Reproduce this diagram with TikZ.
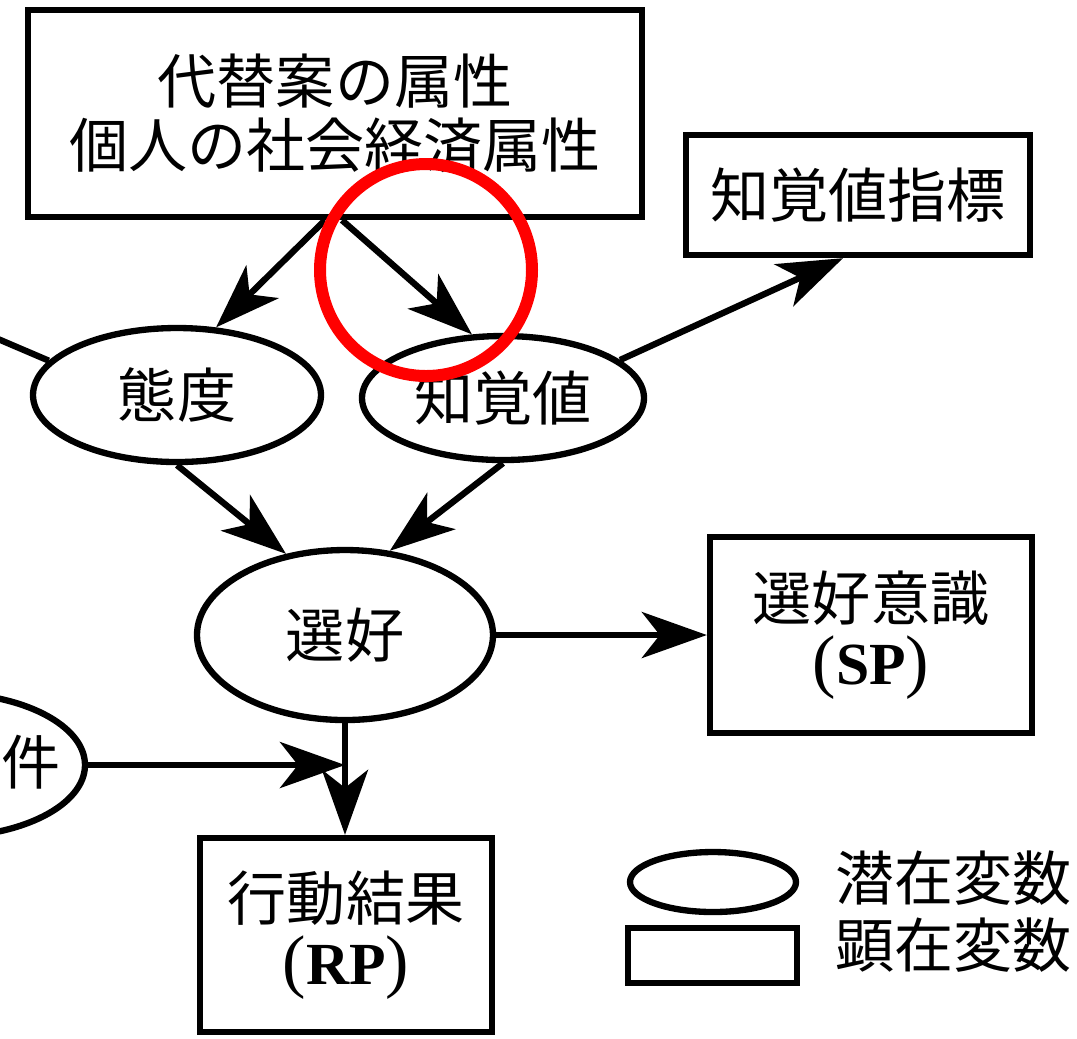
\documentclass[tikz,border=0pt]{standalone}
\usepackage{fontspec}
\usetikzlibrary{shapes.geometric,arrows.meta,calc}
\newfontfamily\jp{Noto Sans CJK JP}
\newfontfamily\lsr{Liberation Serif}
\newcommand\jpsize{\jp\fontsize{16.8}{18.2}\selectfont}
\newcommand\rpsplabel[1]{{\lsr\fontsize{20}{18.2}\selectfont(}{\lsr\bfseries\fontsize{17}{18.2}\selectfont #1}{\lsr\fontsize{20}{18.2}\selectfont)}}
\tikzset{
  boxnode/.style={draw, rectangle, line width=1.8pt, inner sep=0pt, align=center, font=\jpsize},
  ellnode/.style={draw, ellipse, line width=1.8pt, inner sep=0pt, align=center, font=\jpsize},
  txt/.style={inner sep=0pt, font=\jpsize},
  arr/.style={line width=1.8pt, -{Stealth[length=6.5mm,width=4.6mm,inset=1.8mm]}},
  plainline/.style={line width=1.8pt}
}
\begin{document}
\begin{tikzpicture}
\path[use as bounding box] (0,0) rectangle (10.77,-10.38);
\clip (0,0) rectangle (10.77,-10.38);
% nodes
\node[boxnode, minimum width=6.14cm, minimum height=2.07cm] (top) at (3.35,-1.135) {代替案の属性\\個人の社会経済属性};
\node[boxnode, minimum width=3.44cm, minimum height=1.20cm] (shihyo) at (8.58,-1.95) {知覚値指標};
\node[ellnode, minimum width=2.88cm, minimum height=1.34cm] (taido) at (1.77,-3.95) {態度};
\node[ellnode, minimum width=2.82cm, minimum height=1.24cm] (chikaku) at (5.03,-3.98) {知覚値};
\node[ellnode, minimum width=2.96cm, minimum height=1.70cm] (senko) at (3.45,-6.35) {選好};
\node[boxnode, minimum width=3.22cm, minimum height=1.96cm] (sp) at (8.71,-6.35) {選好意識\\\rpsplabel{SP}};
\node[boxnode, minimum width=2.92cm, minimum height=1.94cm] (rp) at (3.46,-9.35) {行動結果\\\rpsplabel{RP}};
\node[ellnode, minimum width=2.80cm, minimum height=1.44cm] (ken) at (-0.55,-7.65) {};
\node[txt] (kenl) at (0.31,-7.62) {件};
\coordinate (lin) at (-0.3,-3.27);
% legend
\node[ellnode, minimum width=1.66cm, minimum height=0.60cm] (legE) at (7.13,-8.82) {};
\node[boxnode, minimum width=1.69cm, minimum height=0.55cm] (legR) at (7.125,-9.555) {};
\node[txt, anchor=west] (leg1) at (8.35,-8.78) {潜在変数};
\node[txt, anchor=west] (leg2) at (8.35,-9.45) {顕在変数};
% connectors
\draw[plainline] (lin) -- (taido.165);
\draw[arr] ([xshift=-0.1cm]top.south) -- (taido.60);
\draw[arr] ([xshift=0.07cm]top.south) -- (chikaku.116);
\draw[arr] (chikaku.18) -- ([xshift=-0.15cm]shihyo.south);
\draw[arr] (taido.south) -- (senko.126);
\draw[arr] (chikaku.south) -- (senko.62);
\draw[arr] (senko.east) -- (sp.west |- senko.east);
\draw[arr] (senko.south) -- (rp.north -| senko.south);
\draw[arr] (ken.east) -- (ken.east -| senko.south);
% annotation
\draw[red, line width=0.12cm] (4.26,-2.70) circle (1.06);
\end{tikzpicture}
\end{document}
